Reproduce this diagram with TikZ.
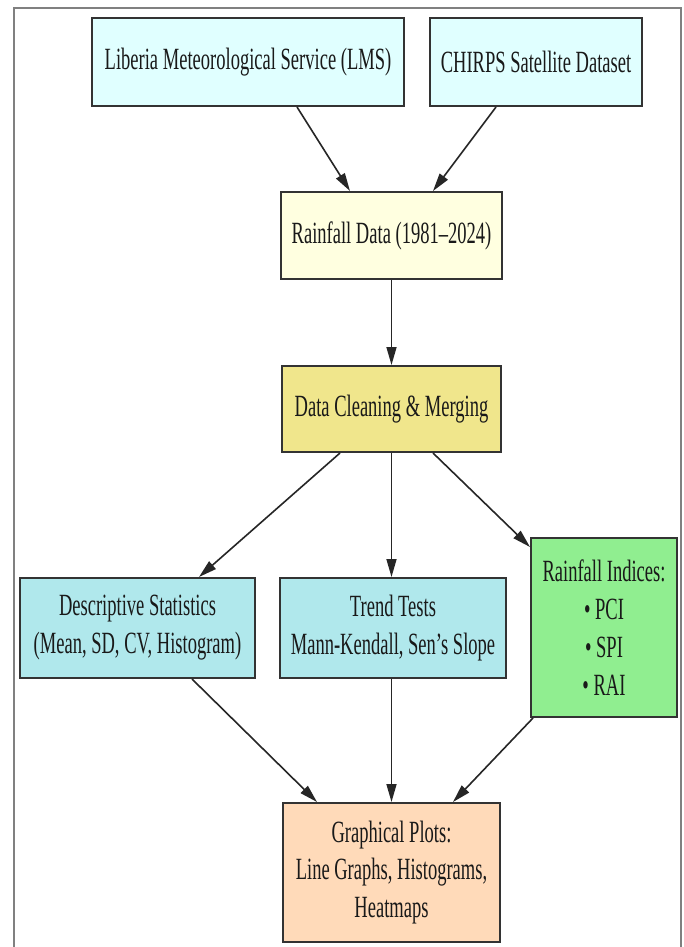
\documentclass[tikz,border=0pt]{standalone}
\usepackage{fontspec}
\setmainfont{Liberation Serif}[FakeStretch=0.6]
\usetikzlibrary{arrows.meta}
\definecolor{cyanA}{HTML}{E0FFFF}
\definecolor{yellowA}{HTML}{FFFFE0}
\definecolor{khakiA}{HTML}{F0E68C}
\definecolor{turqA}{HTML}{B0E8EC}
\definecolor{greenA}{HTML}{90EE90}
\definecolor{peachA}{HTML}{FFDAB9}
\definecolor{edgeA}{HTML}{333333}
\definecolor{frameA}{HTML}{808080}
\tikzset{
  box/.style={draw=edgeA, line width=2bp, rectangle, align=center, inner sep=0pt,
    text=black!90, font=\fontsize{31}{38}\selectfont},
  conn/.style={line width=1.6bp, draw=black!85, -{Triangle[length=18bp,width=10bp]}}
}
\begin{document}
\begin{tikzpicture}[x=1bp,y=-1bp]
\useasboundingbox (0,0) rectangle (684,947);
\fill[white] (0,0) rectangle (684,947);
\draw[frameA, line width=2bp] (14,947) -- (14,8) -- (681,8) -- (681,947);

\node[box, fill=cyanA, minimum width=312bp, minimum height=88bp] (lms) at (248,62) {Liberia Meteorological Service (LMS)};
\node[box, fill=cyanA, minimum width=212bp, minimum height=88bp] (chirps) at (536,62) {CHIRPS Satellite Dataset};
\node[box, fill=yellowA, minimum width=221bp, minimum height=87bp] (rain) at (391.5,235.5) {Rainfall Data (1981--2024)};
\node[box, fill=khakiA, minimum width=219bp, minimum height=86bp] (clean) at (391.5,409) {Data Cleaning \& Merging};
\node[box, fill=turqA, minimum width=235bp, minimum height=100bp] (desc) at (137.5,628) {Descriptive Statistics\\(Mean, SD, CV, Histogram)};
\node[box, fill=turqA, minimum width=226bp, minimum height=100bp] (trend) at (393,628) {Trend Tests\\Mann-Kendall, Sen's Slope};
\node[box, fill=greenA, minimum width=146bp, minimum height=179bp] (ind) at (604,627.5) {Rainfall Indices:\\• PCI\\• SPI\\• RAI};
\node[box, fill=peachA, minimum width=217bp, minimum height=139bp] (graph) at (391.5,872.5) {Graphical Plots:\\Line Graphs, Histograms,\\Heatmaps};

\draw[conn] ([xshift=49bp]lms.south) -- ([xshift=-41.5bp]rain.north);
\draw[conn] ([xshift=-40bp]chirps.south) -- ([xshift=41.5bp]rain.north);
\draw[conn] (rain.south) -- (clean.north);
\draw[conn] ([xshift=-51.5bp]clean.south) -- ([xshift=61.5bp]desc.north);
\draw[conn] (clean.south) -- (clean.south |- trend.north);
\draw[conn] ([xshift=41.5bp]clean.south) -- ([yshift=-10bp]ind.north west);
\draw[conn] ([xshift=54.5bp]desc.south) -- ([xshift=-74.5bp]graph.north);
\draw[conn] (trend.south -| graph.north) -- (graph.north);
\draw[conn] ([xshift=3bp]ind.south west) -- ([xshift=61.5bp]graph.north);
\end{tikzpicture}
\end{document}
